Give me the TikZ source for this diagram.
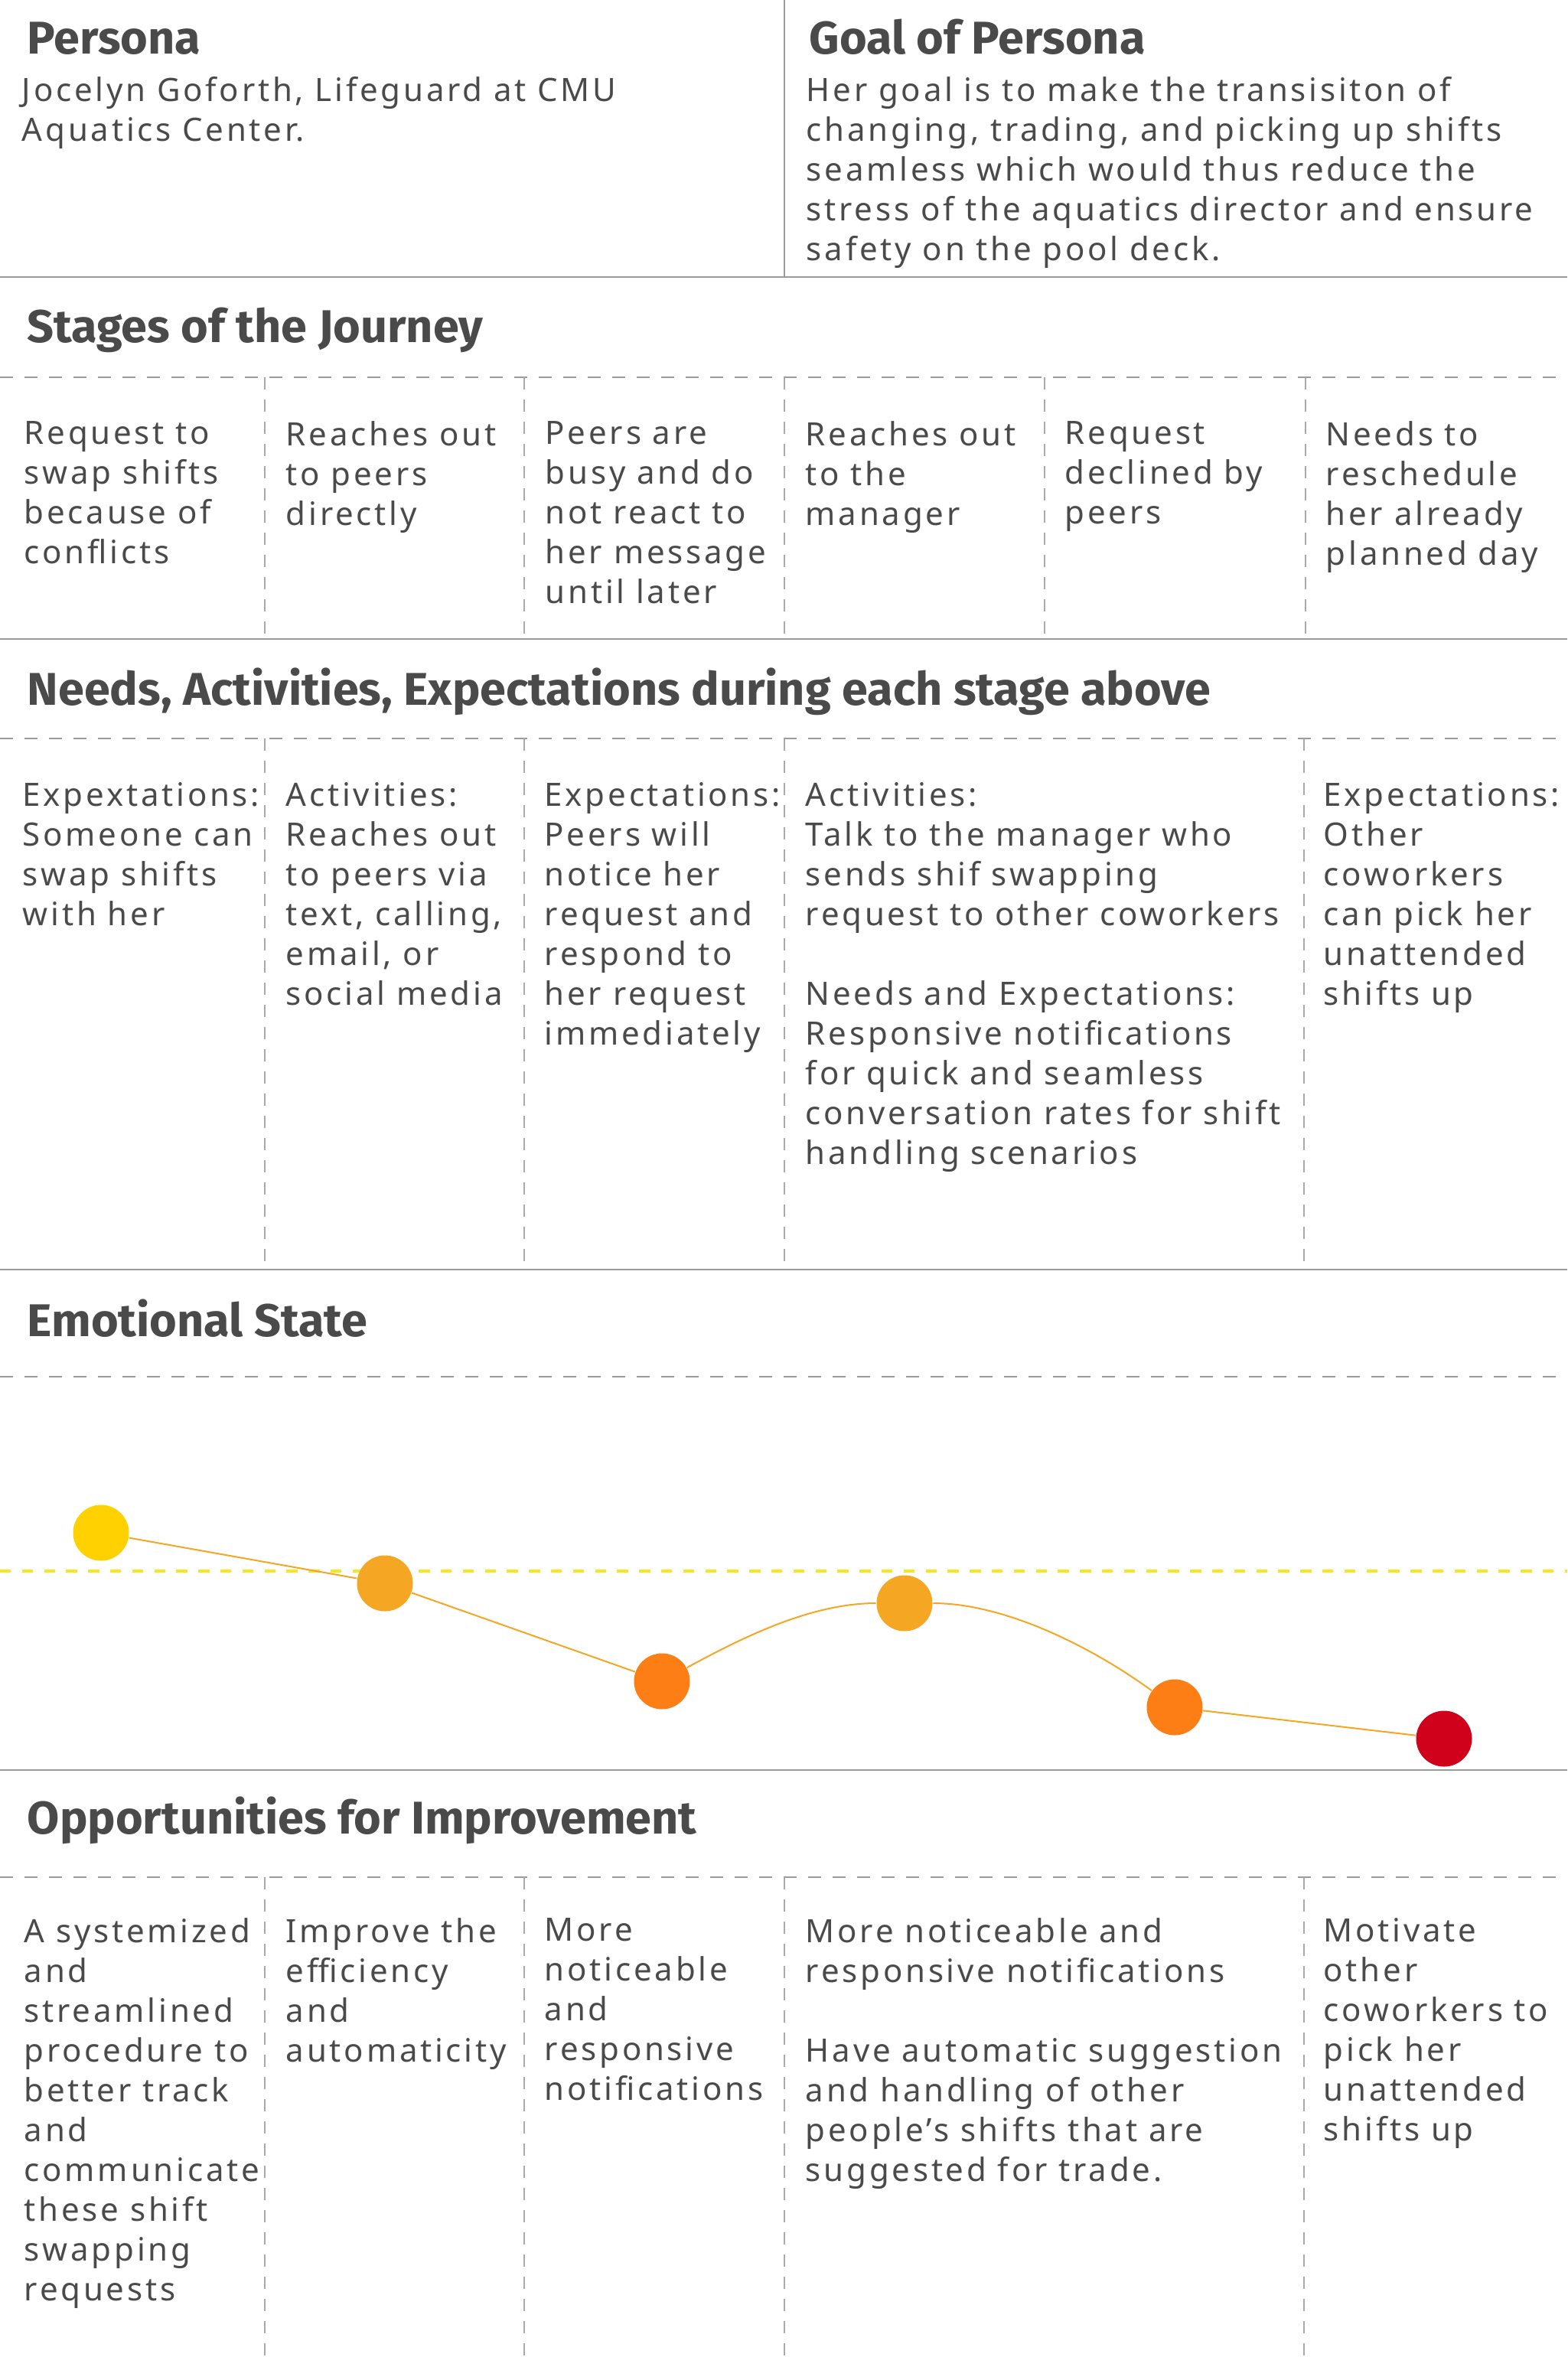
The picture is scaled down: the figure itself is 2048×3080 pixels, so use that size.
\documentclass[tikz,border=0pt]{standalone}
\usepackage{fontspec}
\setmainfont{Noto Sans}[LetterSpace=9]
\newfontfamily\headfont{Fira Sans}[FakeStretch=1.02]
\definecolor{jtext}{HTML}{4A4A4A}
\definecolor{jline}{HTML}{9B9B9B}
\definecolor{jneutral}{HTML}{F8E71C}
\definecolor{jmoodline}{HTML}{F5A623}
\definecolor{moodhigh}{HTML}{FFD100}
\definecolor{moodmid}{HTML}{F5A623}
\definecolor{moodlow}{HTML}{FD7E14}
\definecolor{moodbad}{HTML}{D0021B}
\tikzset{
  heading/.style={anchor=base west, inner sep=0pt, text=jtext, font=\headfont\bfseries\fontsize{15}{18}\selectfont},
  cell/.style={anchor=north west, inner sep=0pt, align=left, text=jtext, font=\fontsize{10.5}{13}\selectfont, execute at begin node=\strut},
  rule/.style={draw=jline, line width=0.6pt},
  rowline/.style={draw=jline, line width=0.7pt, dash pattern=on 4.25pt off 3.75pt},
  divider/.style={draw=jline!85, line width=0.4pt, dash pattern=on 4pt off 3.25pt},
  neutral/.style={draw=jneutral, line width=1pt, dash pattern=on 3.6pt off 3.6pt},
  mood/.style={circle, minimum size=18.25pt, inner sep=0pt},
  moodline/.style={draw=jmoodline, line width=0.5pt},
}
\begin{document}
\begin{tikzpicture}[x=0.25pt, y=-0.25pt]
  \useasboundingbox (0,0) rectangle (2048,3080);
  % persona and goal
  \draw[rule] (1025,0) -- (1025,362);
  \draw[rule] (0,362) -- (2048,362);
  \node[heading] (hpersona) at (35,71) {Persona};
  \node[cell] (persona) at (28,100) {Jocelyn Goforth, Lifeguard at CMU\\Aquatics Center.};
  \node[heading] (hgoal) at (1057,71) {Goal of Persona};
  \node[cell] (goal) at (1053,100) {Her goal is to make the transisiton of\\changing, trading, and picking up shifts\\seamless which would thus reduce the\\stress of the aquatics director and ensure\\safety on the pool deck.};
  % stages
  \node[heading] (hstages) at (35,448) {Stages of the Journey};
  \draw[rowline] (0,493) -- (2048,493);
  \foreach \x in {346,685,1025,1365,1706} \draw[divider] (\x,493) -- (\x,835);
  \draw[rule] (0,835) -- (2048,835);
  \node[cell] (s1) at (31,550) {Request to\\swap shifts\\because of\\conflicts};
  \node[cell] (s2) at (373,550) {Reaches out\\to peers\\directly};
  \node[cell] (s3) at (712,550) {Peers are\\busy and do\\not react to\\her message\\until later};
  \node[cell] (s4) at (1052,550) {Reaches out\\to the\\manager};
  \node[cell] (s5) at (1391,550) {Request\\declined by\\peers};
  \node[cell] (s6) at (1732,550) {Needs to\\reschedule\\her already\\planned day};
  % needs, activities, expectations
  \node[heading] (hneeds) at (35,921) {Needs, Activities, Expectations during each stage above};
  \draw[rowline] (0,965) -- (2048,965);
  \foreach \x in {346,685,1025,1704} \draw[divider] (\x,965) -- (\x,1659);
  \draw[rule] (0,1659) -- (2048,1659);
  \node[cell] (n1) at (29,1022) {Expextations:\\Someone can\\swap shifts\\with her};
  \node[cell] (n2) at (373,1022) {Activities:\\Reaches out\\to peers via\\text, calling,\\email, or\\social media};
  \node[cell] (n3) at (711,1022) {Expectations:\\Peers will\\notice her\\request and\\respond to\\her request\\immediately};
  \node[cell] (n4) at (1052,1022) {Activities:\\Talk to the manager who\\sends shif swapping\\request to other coworkers\\[13pt]Needs and Expectations:\\Responsive notifications\\for quick and seamless\\conversation rates for shift\\handling scenarios};
  \node[cell] (n5) at (1729,1022) {Expectations:\\Other\\coworkers\\can pick her\\unattended\\shifts up};
  % emotional state
  \node[heading] (hemotion) at (35,1746) {Emotional State};
  \draw[rowline] (0,1799) -- (2048,1799);
  \draw[neutral] (0,2053) -- (2048,2053);
  \draw[rule] (0,2313) -- (2048,2313);
  \node[mood, fill=moodhigh] (e1) at (132,2003) {};
  \node[mood, fill=moodmid] (e2) at (503,2069) {};
  \node[mood, fill=moodlow] (e3) at (865,2197) {};
  \node[mood, fill=moodmid] (e4) at (1182,2095) {};
  \node[mood, fill=moodlow] (e5) at (1535,2231) {};
  \node[mood, fill=moodbad] (e6) at (1887,2272) {};
  \draw[moodline] (e1) -- (e2) -- (e3);
  \draw[moodline] (e3) .. controls +(110,-60) and +(-120,0) .. (e4);
  \draw[moodline] (e4) .. controls +(130,0) and +(-110,-80) .. (e5);
  \draw[moodline] (e5) -- (e6);
  % opportunities
  \node[heading] (hopport) at (35,2396) {Opportunities for Improvement};
  \draw[rowline] (0,2453) -- (2048,2453);
  \foreach \x in {346,685,1025,1704} \draw[divider] (\x,2453) -- (\x,3080);
  \node[cell] (o1) at (31,2506) {A systemized\\and\\streamlined\\procedure to\\better track\\and\\communicate\\these shift\\swapping\\requests};
  \node[cell] (o2) at (373,2506) {Improve the\\efficiency\\and\\automaticity};
  \node[cell] (o3) at (711,2506) {More\\noticeable\\and\\responsive\\notifications};
  \node[cell] (o4) at (1052,2506) {More noticeable and\\responsive notifications\\[13pt]Have automatic suggestion\\and handling of other\\people’s shifts that are\\suggested for trade.};
  \node[cell] (o5) at (1729,2506) {Motivate\\other\\coworkers to\\pick her\\unattended\\shifts up};
\end{tikzpicture}
\end{document}
